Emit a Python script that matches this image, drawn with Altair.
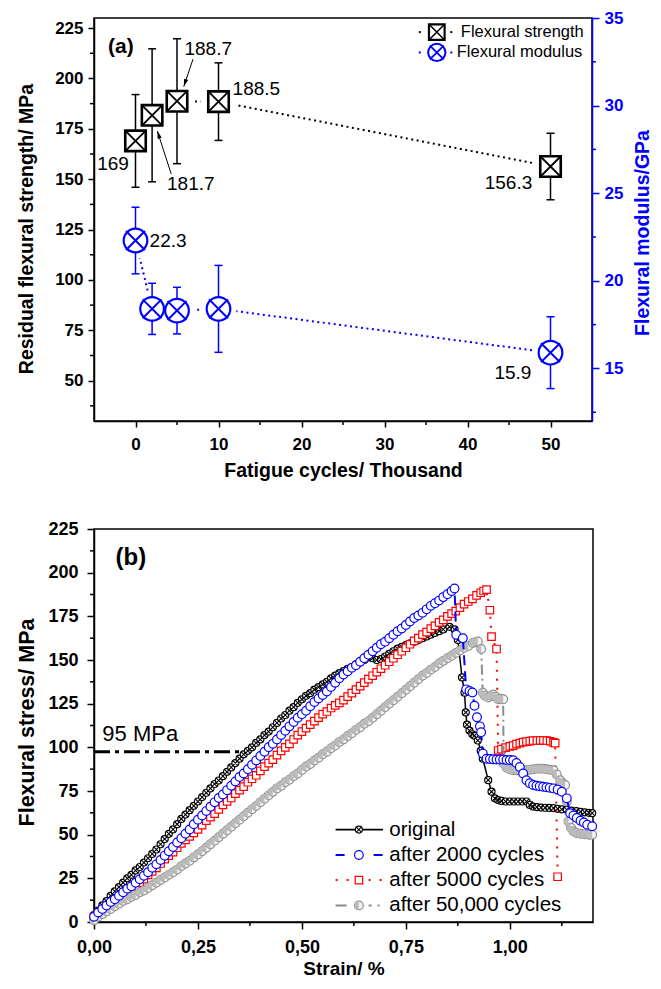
import altair as alt
import pandas as pd

FONT = "Liberation Sans"
BLUE = "#0000FF"
RED = "#FF0000"
GRAY = "#8C8C8C"

# ---------------- panel (a) data ----------------
cycles = [0, 2, 5, 10, 50]
strength = [169, 181.7, 188.7, 188.5, 156.3]
strength_err = [23, 33, 31, 19.25, 16.5]
modulus = [22.3, 18.4, 18.3, 18.4, 15.9]
modulus_err = [1.9, 1.46, 1.33, 2.48, 2.05]

strength_labels = ["169", "181.7", "188.7", "188.5", "156.3"]
strength_label_x = [-0.8, 3.8, 5.9, 11.7, 47.8]
strength_label_y = [157.5, 147.4, 214.8, 194.9, 148.0]
strength_label_align = ["right", "left", "left", "left", "right"]
modulus_labels = ["22.3", "15.9"]
modulus_label_x = [1.7, 47.7]
modulus_label_y = [22.25, 14.72]
modulus_label_align = ["left", "right"]

arrow_x = [4.3, 6.93]
arrow_y = [152.6, 209.6]
arrow_x2 = [2.63, 5.82]
arrow_y2 = [173.9, 196.0]
arrow_angle = [342, 198]

legend_a_labels = ["Flexural strength", "Flexural modulus"]
legend_a_y = [223.0, 212.9]

# ---------------- panel (b) data ----------------
strain_rise = [0.00, 0.01, 0.02, 0.03, 0.04, 0.05, 0.06, 0.07, 0.08, 0.09,
               0.10, 0.11, 0.12, 0.13, 0.14, 0.15, 0.16, 0.17, 0.18, 0.19,
               0.20, 0.21, 0.22, 0.23, 0.24, 0.25, 0.26, 0.27, 0.28, 0.29,
               0.30, 0.31, 0.32, 0.33, 0.34, 0.35, 0.36, 0.37, 0.38, 0.39,
               0.40, 0.41, 0.42, 0.43, 0.44, 0.45, 0.46, 0.47, 0.48, 0.49,
               0.50, 0.51, 0.52, 0.53, 0.54, 0.55, 0.56, 0.57, 0.58, 0.59,
               0.60, 0.61, 0.62, 0.63, 0.64, 0.65, 0.66, 0.67, 0.68, 0.69,
               0.70, 0.71, 0.72, 0.73, 0.74, 0.75, 0.76, 0.77, 0.78, 0.79,
               0.80, 0.81, 0.82, 0.83, 0.84]

black_rise = [4, 6.5, 9.5, 12, 15, 17.5, 20, 22.5, 25, 27,
              29.5, 31.5, 34, 36.5, 39, 41.5, 44.5, 47.5, 50.5, 53,
              56, 59, 61.5, 64, 66.5, 69, 71.5, 74, 76.5, 79,
              81, 83.5, 86, 88.5, 91, 93.5, 96, 98, 100, 102.5,
              104.5, 107, 109, 111.5, 114, 116.5, 118.5, 121, 123, 125.5,
              127.5, 129.5, 131, 133, 134.5, 136, 137.5, 139.5, 141, 142.5,
              143.6, 145, 146, 147.5, 148.5, 150, 151.5, 151, 150, 150.5,
              152, 153.5, 155, 156.5, 157.5, 158.5, 159.5, 160.5, 161.5, 162.5,
              163.5, 164.5, 165.5, 166.5, 167.5]
black_tail_strain = [0.855, 0.867, 0.875, 0.885, 0.891, 0.894, 0.897, 0.903, 0.91,
                     0.915, 0.923, 0.93, 0.935, 0.948, 0.956, 0.964, 0.972, 0.98,
                     0.99, 1.0, 1.01, 1.02, 1.03, 1.04, 1.048, 1.056, 1.065, 1.075,
                     1.085, 1.095, 1.105, 1.115, 1.125, 1.137, 1.148, 1.16, 1.17,
                     1.18, 1.19, 1.198]
black_tail_stress = [169, 167.5, 161.5, 140, 131.3, 120, 113, 109.6, 107.5, 106.7,
                     103.9, 98, 93.5, 81.2, 74.6, 70.8, 69.8, 69.3, 69, 69, 69, 69,
                     69, 69, 67, 66.1, 65.8, 65.5, 65.4, 65.3, 65.2, 64.8, 64.5,
                     64.2, 63.8, 63.5, 63.1, 62.8, 62.5, 62.3]

blue_rise = [3, 5.5, 7.5, 9.5, 11.5, 13, 15, 17, 19, 20.5,
             22.5, 24.5, 26.5, 28.5, 31, 33, 35.5, 38, 40.5, 43,
             45.5, 48, 50.5, 53, 56, 58.5, 61, 63.5, 66, 68.5,
             71, 73, 75.5, 78, 80.5, 83, 85, 87.5, 90, 92.5,
             95, 97.5, 100, 102, 104.5, 107, 109.5, 112, 114.5, 117,
             119, 121, 123.5, 126, 128, 130, 132, 134.5, 137, 139.5,
             141.7, 143.5, 145.5, 147, 149, 151, 153, 155, 157, 159,
             160.5, 162.5, 164.5, 166.5, 168, 170, 172, 174, 175.5, 177,
             179, 181, 182.5, 184, 186]
blue_tail_strain = [0.85, 0.86, 0.867, 0.871, 0.887, 0.895, 0.903, 0.91, 0.915,
                    0.921, 0.928, 0.931, 0.935, 0.944, 0.952, 0.96, 0.968, 0.976,
                    0.984, 0.992, 1.0, 1.008, 1.016, 1.024, 1.032, 1.04, 1.048,
                    1.056, 1.064, 1.072, 1.08, 1.088, 1.096, 1.105, 1.115, 1.125,
                    1.137, 1.145, 1.153, 1.161, 1.17, 1.178, 1.186, 1.198]
blue_tail_stress = [187.7, 189.5, 190.9, 164.4, 162.5, 133.2, 132.3, 131.4, 123.8,
                    117.2, 112, 108.7, 96.4, 93.5, 93.3, 93.2, 93, 93, 93, 92.8,
                    92.7, 92.6, 91, 88.8, 85, 81.2, 79.5, 78.4, 78, 77.7, 77.4,
                    77.1, 76.8, 76.5, 75.8, 74.6, 70.8, 62.3, 61, 59.5, 58, 57,
                    55.7, 54.8]

red_rise = [3, 5, 6.5, 8, 10, 12, 13.5, 15, 17, 19,
            20.5, 22.5, 24.5, 27, 29, 31, 33.5, 36, 38, 40,
            42.5, 45, 47, 49, 51, 53, 55.5, 58, 60, 62,
            64.5, 67, 69, 71, 73.5, 75.5, 77.5, 80, 82, 84,
            86.5, 89, 91, 93, 95.5, 98, 100, 102, 104.5, 107,
            109, 111, 113, 115, 117, 119, 120.5, 122.5, 124, 125.5,
            127, 129, 131, 133, 135, 137, 139, 141, 143, 145,
            147, 149, 151, 153, 155, 157, 159, 161, 162.5, 164.5,
            166, 168, 169.5, 171.5, 173]
red_tail_strain = [0.85, 0.86, 0.87, 0.88, 0.89, 0.90, 0.91, 0.92, 0.93, 0.937,
                   0.944, 0.952, 0.956, 0.968, 0.972, 0.98, 0.99, 1.0, 1.008,
                   1.016, 1.024, 1.032, 1.04, 1.048, 1.056, 1.065, 1.073, 1.081,
                   1.089, 1.097, 1.105, 1.109, 1.115]
red_tail_stress = [175, 176.5, 178, 180, 182, 183.5, 185, 187, 188.5, 189.5,
                   190.3, 178.5, 163.4, 156.3, 98.2, 99, 99.8, 100.5, 101,
                   101.8, 102.4, 103, 103.3, 103.6, 103.9, 103.9, 104, 104,
                   103.9, 103.5, 102.8, 102.4, 25.9]

gray_rise = [1, 3, 4.5, 6, 7.5, 9, 10.5, 12, 13, 14.5,
             15.5, 17, 18, 19.5, 21, 22.5, 24, 25.5, 27, 28.5,
             30, 32, 33.5, 35, 37, 38.7, 40.5, 42.5, 44.5, 46.5,
             48.5, 50.5, 52.5, 54.5, 56.5, 58.5, 60.5, 62.5, 64.5, 66.5,
             68.5, 70.5, 72.5, 74.5, 76.5, 78, 80, 81.5, 83.5, 85,
             87, 89, 90.5, 92.5, 94, 96, 97.5, 99.5, 101, 103,
             104.5, 106.5, 108, 110, 111.5, 113.5, 115, 117, 119, 121,
             123, 125, 127, 129, 131, 133, 135, 137, 139, 141,
             142.5, 144.5, 146, 148, 149.5]
gray_tail_strain = [0.85, 0.86, 0.87, 0.88, 0.89, 0.90, 0.911, 0.917, 0.923,
                    0.931, 0.935, 0.94, 0.948, 0.955, 0.96, 0.966, 0.972, 0.978,
                    0.984, 0.985, 0.992, 1.0, 1.008, 1.016, 1.024, 1.032, 1.04,
                    1.048, 1.056, 1.065, 1.073, 1.081, 1.089, 1.097, 1.105, 1.113,
                    1.121, 1.127, 1.133, 1.137, 1.141, 1.147, 1.153, 1.16, 1.17,
                    1.18, 1.19, 1.198]
gray_tail_stress = [151, 152.5, 154, 155.5, 157, 158, 159.7, 160.2, 160.6,
                    156.3, 131.3, 129.5, 128.5, 129.5, 130.3, 129, 127.5, 127.8,
                    127.5, 90.7, 88.5, 87.5, 86.9, 86.9, 86.9, 86.9, 86.9,
                    87.2, 87.5, 87.8, 87.8, 87.8, 87.5, 87.2, 86.9, 84.5,
                    81.2, 79.5, 78.4, 69, 57.6, 54, 52, 51, 50.5,
                    50.2, 50, 50]

legend_b_labels = ["original", "after 2000 cycles", "after 5000 cycles",
                   "after 50,000 cycles"]
legend_b_y = [52.9, 38.4, 24.0, 9.5]
legend_b_line_x = [0.581, 0.695]
legend_b_marker_x = 0.637
legend_b_text_x = 0.71

ref_line_x = [0.0]
ref_line_x2 = [0.363]
ref_line_y = [97.5]

# ---------------- sizes / shapes ----------------
WA, HA = 498, 403
WB, HB = 499, 393

XPATH = "M -1 -1 L 1 1 M -1 1 L 1 -1"
XPATH_SHORT = "M -0.8 -0.8 L 0.8 0.8 M -0.8 0.8 L 0.8 -0.8"
XPATH_IN = "M -0.7 -0.7 L 0.7 0.7 M -0.7 0.7 L 0.7 -0.7"
HLINE = "M -1 0 L 1 0"
HALF = ("M 0 -1 L -0.38 -0.92 L -0.71 -0.71 L -0.92 -0.38 L -1 0 L -0.92 0.38 "
        "L -0.71 0.71 L -0.38 0.92 L 0 1 Z")
ARROW = "M 0 0 L 0.45 1.6 L -0.45 1.6 Z"


def pt(**kw):
    kw.setdefault("opacity", 1)
    return kw


# ================= panel (a) =================
XA = alt.Scale(domain=[-5, 55], nice=False, zero=False)
YL = alt.Scale(domain=[30, 230], nice=False, zero=False)
YR = alt.Scale(domain=[12, 35], nice=False, zero=False)

ax_xa = alt.Axis(values=[0, 10, 20, 30, 40, 50], grid=False, tickSize=6, tickWidth=1.5,
                 domainWidth=1.5, domainColor="black", tickColor="black",
                 labelFont=FONT, labelFontSize=17, labelFontWeight="bold",
                 labelColor="black", labelPadding=9, labelFlush=False,
                 title="Fatigue cycles/ Thousand", titleFont=FONT, titleFontSize=19.5,
                 titleFontWeight="bold", titleColor="black", titlePadding=9)
ax_yl = alt.Axis(orient="left", values=[50, 75, 100, 125, 150, 175, 200, 225],
                 grid=False, tickSize=6, tickWidth=1.5, domainWidth=1.5,
                 domainColor="black", tickColor="black", labelFont=FONT,
                 labelFontSize=17, labelFontWeight="bold", labelColor="black",
                 labelPadding=5, labelFlush=False,
                 title="Residual flexural strength/ MPa", titleFont=FONT,
                 titleFontSize=19.5, titleFontWeight="bold", titleColor="black",
                 titleAngle=270, titleX=-68, titleY=210.5, titleAlign="center",
                 titleBaseline="middle")
ax_yr = alt.Axis(orient="right", values=[15, 20, 25, 30, 35], grid=False, tickSize=7,
                 tickWidth=1.5, domainWidth=1.5, domainColor=BLUE, tickColor=BLUE,
                 labelFont=FONT, labelFontSize=17, labelFontWeight="bold",
                 labelColor=BLUE, labelPadding=5, labelFlush=False,
                 title="Flexural modulus/GPa", titleFont=FONT, titleFontSize=19.5,
                 titleFontWeight="bold", titleColor=BLUE, titleAngle=270,
                 titleX=50, titleY=214.5, titleAlign="center", titleBaseline="middle")


def XAe(f):
    return alt.X(f"{f}:Q", scale=XA, axis=ax_xa)


def YLe(f):
    return alt.Y(f"{f}:Q", scale=YL, axis=ax_yl)


def YRe(f):
    return alt.Y(f"{f}:Q", scale=YR, axis=ax_yr)


df_s = pd.DataFrame({"x": cycles, "y": strength,
                     "lo": [v - e for v, e in zip(strength, strength_err)],
                     "hi": [v + e for v, e in zip(strength, strength_err)]})
df_m = pd.DataFrame({"x": cycles, "y": modulus,
                     "lo": [v - e for v, e in zip(modulus, modulus_err)],
                     "hi": [v + e for v, e in zip(modulus, modulus_err)]})

df_sl = pd.DataFrame({"label": strength_labels, "x": strength_label_x,
                      "y": strength_label_y, "align": strength_label_align})
df_ml = pd.DataFrame({"label": modulus_labels, "x": modulus_label_x,
                      "y": modulus_label_y, "align": modulus_label_align})
df_arrow = pd.DataFrame({"x": arrow_x, "y": arrow_y, "x2": arrow_x2, "y2": arrow_y2,
                         "ang": arrow_angle})


def texts(df, yenc, color="black", size=19, weight="normal"):
    out = []
    for al in ["left", "right"]:
        sub = df[df["align"] == al]
        if len(sub):
            out.append(alt.Chart(sub).mark_text(align=al, baseline="middle", font=FONT,
                                                fontSize=size, fontWeight=weight,
                                                color=color)
                       .encode(x=XAe("x"), y=yenc("y"), text="label:N"))
    return out


bs = alt.Chart(df_s).encode(x=XAe("x"), y=YLe("y"))
left_layers = [
    bs.mark_line(color="black", strokeDash=[2, 3.5], strokeWidth=2),
    bs.mark_point(**pt(shape="circle", filled=True, fill="white", size=1300, strokeWidth=0)),
    alt.Chart(df_s).mark_rule(color="black", strokeWidth=1.5).encode(
        x=XAe("x"), y=YLe("lo"), y2="hi:Q"),
    alt.Chart(df_s).mark_point(**pt(shape=HLINE, size=64, filled=False, color="black",
                                    strokeWidth=1.5)).encode(x=XAe("x"), y=YLe("lo")),
    alt.Chart(df_s).mark_point(**pt(shape=HLINE, size=64, filled=False, color="black",
                                    strokeWidth=1.5)).encode(x=XAe("x"), y=YLe("hi")),
    bs.mark_point(**pt(shape="square", size=420, filled=True, fill="white",
                       stroke="black", strokeWidth=2.6)),
    bs.mark_point(**pt(shape=XPATH, size=420, filled=False, color="black",
                       strokeWidth=1.8)),
]
left_layers += texts(df_sl, YLe)
left_layers += [
    alt.Chart(df_arrow).mark_rule(color="black", strokeWidth=1).encode(
        x=XAe("x"), y=YLe("y"), x2="x2:Q", y2="y2:Q"),
    alt.Chart(df_arrow).mark_point(**pt(shape=ARROW, size=90, filled=True,
                                        color="black", strokeWidth=0)).encode(
        x=XAe("x2"), y=YLe("y2"), angle=alt.Angle("ang:Q", scale=None)),
    alt.Chart(pd.DataFrame({"label": ["(a)"], "x": [-3.3], "y": [215.7]})).mark_text(
        align="left", baseline="middle", font=FONT, fontSize=21, fontWeight="bold",
        color="black").encode(x=XAe("x"), y=YLe("y"), text="label:N"),
]
# legend (a)
df_leg_a_sym = pd.DataFrame({"x": [36.3], "y": [legend_a_y[0]]})
df_leg_m_sym = pd.DataFrame({"x": [36.3], "y": [legend_a_y[1]]})
df_leg_a_dots = pd.DataFrame({"x": [34.25, 38.05], "y": [legend_a_y[0]] * 2})
df_leg_m_dots = pd.DataFrame({"x": [34.25, 38.05], "y": [legend_a_y[1]] * 2})
df_leg_a_txt = pd.DataFrame({"label": legend_a_labels, "x": [39.2, 38.7],
                             "y": legend_a_y})
left_layers += [
    alt.Chart(df_leg_a_dots).mark_point(**pt(shape="square", size=4, filled=True,
                                             color="black")).encode(x=XAe("x"), y=YLe("y")),
    alt.Chart(df_leg_m_dots).mark_point(**pt(shape="square", size=4, filled=True,
                                             color=BLUE)).encode(x=XAe("x"), y=YLe("y")),
    alt.Chart(df_leg_a_sym).mark_point(**pt(shape="square", size=245, filled=True,
                                            fill="white", stroke="black",
                                            strokeWidth=2.2)).encode(x=XAe("x"), y=YLe("y")),
    alt.Chart(df_leg_a_sym).mark_point(**pt(shape=XPATH, size=245, filled=False,
                                            color="black", strokeWidth=1.5)).encode(
        x=XAe("x"), y=YLe("y")),
    alt.Chart(df_leg_m_sym).mark_point(**pt(shape="circle", size=300, filled=True,
                                            fill="white", stroke=BLUE,
                                            strokeWidth=2)).encode(x=XAe("x"), y=YLe("y")),
    alt.Chart(df_leg_m_sym).mark_point(**pt(shape=XPATH_SHORT, size=300, filled=False,
                                            color=BLUE, strokeWidth=1.8)).encode(
        x=XAe("x"), y=YLe("y")),
    alt.Chart(df_leg_a_txt).mark_text(align="left", baseline="middle", font=FONT,
                                      fontSize=16.5, color="black").encode(
        x=XAe("x"), y=YLe("y"), text="label:N"),
]
# minor ticks (a)
left_layers += [
    alt.Chart(pd.DataFrame({"v": [5, 15, 25, 35, 45]})).mark_rule(
        color="black", strokeWidth=1.5).encode(x=XAe("v"), y=alt.value(HA),
                                               y2=alt.value(HA + 4)),
    alt.Chart(pd.DataFrame({"v": [37.5, 62.5, 87.5, 112.5, 137.5, 162.5, 187.5, 212.5]}))
    .mark_rule(color="black", strokeWidth=1.5).encode(y=YLe("v"), x=alt.value(0),
                                                       x2=alt.value(-4)),
]

bm = alt.Chart(df_m).encode(x=XAe("x"), y=YRe("y"))
right_layers = [
    bm.mark_line(color=BLUE, strokeDash=[2, 3.5], strokeWidth=2),
    bm.mark_point(**pt(shape="circle", filled=True, fill="white", size=1300, strokeWidth=0)),
    alt.Chart(df_m).mark_rule(color=BLUE, strokeWidth=1.5).encode(
        x=XAe("x"), y=YRe("lo"), y2="hi:Q"),
    alt.Chart(df_m).mark_point(**pt(shape=HLINE, size=64, filled=False, color=BLUE,
                                    strokeWidth=1.5)).encode(x=XAe("x"), y=YRe("lo")),
    alt.Chart(df_m).mark_point(**pt(shape=HLINE, size=64, filled=False, color=BLUE,
                                    strokeWidth=1.5)).encode(x=XAe("x"), y=YRe("hi")),
    bm.mark_point(**pt(shape="circle", size=560, filled=True, fill="white",
                       stroke=BLUE, strokeWidth=2.2)),
    bm.mark_point(**pt(shape=XPATH_SHORT, size=560, filled=False, color=BLUE,
                       strokeWidth=2)),
]
right_layers += texts(df_ml, YRe)
right_layers += [
    alt.Chart(pd.DataFrame({"v": [12.5, 17.5, 22.5, 27.5, 32.5]})).mark_rule(
        color=BLUE, strokeWidth=1.5).encode(y=YRe("v"), x=alt.value(WA),
                                             x2=alt.value(WA + 4)),
]

chart_a = alt.layer(alt.layer(*left_layers), alt.layer(*right_layers)).resolve_scale(
    y="independent").properties(width=WA, height=HA)

# ================= panel (b) =================
XB = alt.Scale(domain=[0, 1.2], nice=False, zero=False)
YB = alt.Scale(domain=[0, 225], nice=False, zero=False)
ax_xb = alt.Axis(values=[0, 0.25, 0.5, 0.75, 1.0],
                 labelExpr="replace(format(datum.value, '.2f'), '.', ',')",
                 grid=False, tickSize=7, tickWidth=1.5, domainWidth=1.5,
                 domainColor="black", tickColor="black", labelFont=FONT,
                 labelFontSize=18, labelFontWeight="bold", labelColor="black",
                 labelPadding=9, labelFlush=False, title="Strain/ %", titleFont=FONT,
                 titleFontSize=19, titleFontWeight="bold", titleColor="black",
                 titlePadding=3)
ax_yb = alt.Axis(values=[0, 25, 50, 75, 100, 125, 150, 175, 200, 225], grid=False,
                 tickSize=7, tickWidth=1.5, domainWidth=1.5, domainColor="black",
                 tickColor="black", labelFont=FONT, labelFontSize=18,
                 labelFontWeight="bold", labelColor="black", labelPadding=9,
                 labelFlush=False, title="Flexural stress/ MPa", titleFont=FONT,
                 titleFontSize=21.5, titleFontWeight="bold", titleColor="black",
                 titleAngle=270, titleX=-66.6, titleY=193, titleAlign="center",
                 titleBaseline="middle")


def XBe(f):
    return alt.X(f"{f}:Q", scale=XB, axis=ax_xb)


def YBe(f):
    return alt.Y(f"{f}:Q", scale=YB, axis=ax_yb)


black_markers = [pt(shape="circle", size=49, filled=True, fill="white", stroke="black",
                    strokeWidth=1.2),
                 pt(shape=XPATH_IN, size=49, filled=False, color="black",
                    strokeWidth=1.1)]
blue_markers = [pt(shape="circle", size=76, filled=True, fill="white", stroke=BLUE,
                   strokeWidth=1.2)]
red_markers = [pt(shape="square", size=56, filled=True, fill="white", stroke=RED,
                  strokeWidth=1.2)]
gray_markers = [pt(shape="circle", size=76, filled=True, fill="#f4f4f4", stroke=GRAY,
                   strokeWidth=1.2),
                pt(shape=HALF, size=76, filled=True, fill="#bcbcbc", strokeWidth=0)]

series_specs = [
    ("black", strain_rise + black_tail_strain, black_rise + black_tail_stress,
     "black", None, 1.5, None, black_markers),
    ("red", strain_rise + red_tail_strain, red_rise + red_tail_stress,
     RED, [2, 7], 2, [2, 9], red_markers),
    ("gray", strain_rise + gray_tail_strain, gray_rise + gray_tail_stress,
     GRAY, [10, 4, 2, 4], 2, [11, 22, 3, 6, 2, 10], gray_markers),
    ("blue", strain_rise + blue_tail_strain, blue_rise + blue_tail_stress,
     BLUE, [10, 6], 2, [9, 29], blue_markers),
]
leg_row = {"black": 0, "blue": 1, "red": 2, "gray": 3}

b_layers = [
    alt.Chart(pd.DataFrame({"x": ref_line_x, "x2": ref_line_x2, "y": ref_line_y}))
    .mark_rule(color="black", strokeWidth=3, strokeDash=[16, 5, 4, 5])
    .encode(x=XBe("x"), x2="x2:Q", y=YBe("y")),
    alt.Chart(pd.DataFrame({"label": ["95 MPa"], "x": [0.02], "y": [107.7]}))
    .mark_text(align="left", baseline="middle", font=FONT, fontSize=22, color="black")
    .encode(x=XBe("x"), y=YBe("y"), text="label:N"),
    alt.Chart(pd.DataFrame({"label": ["(b)"], "x": [0.052], "y": [208.6]}))
    .mark_text(align="left", baseline="middle", font=FONT, fontSize=24,
               fontWeight="bold", color="black")
    .encode(x=XBe("x"), y=YBe("y"), text="label:N"),
]

for name, xs, ys, color, dash, width, leg_dash, markers in series_specs:
    df = pd.DataFrame({"x": xs, "y": ys})
    base = alt.Chart(df).encode(x=XBe("x"), y=YBe("y"))
    line_kw = dict(color=color, strokeWidth=width)
    if dash is not None:
        line_kw["strokeDash"] = dash
    b_layers.append(base.mark_line(**line_kw))
    for m in markers:
        b_layers.append(base.mark_point(**m))
    ly = legend_b_y[leg_row[name]]
    dfl = pd.DataFrame({"x": legend_b_line_x, "y": [ly, ly]})
    leg_kw = dict(color=color, strokeWidth=width if name != "black" else 1.8)
    if leg_dash is not None:
        leg_kw["strokeDash"] = leg_dash
    b_layers.append(alt.Chart(dfl).mark_line(**leg_kw).encode(x=XBe("x"), y=YBe("y")))
    dfm = pd.DataFrame({"x": [legend_b_marker_x], "y": [ly]})
    for m in markers:
        b_layers.append(alt.Chart(dfm).mark_point(**m).encode(x=XBe("x"), y=YBe("y")))

b_layers.append(
    alt.Chart(pd.DataFrame({"label": legend_b_labels, "x": [legend_b_text_x] * 4,
                            "y": legend_b_y}))
    .mark_text(align="left", baseline="middle", font=FONT, fontSize=20.5, color="black")
    .encode(x=XBe("x"), y=YBe("y"), text="label:N"))
b_layers += [
    alt.Chart(pd.DataFrame({"v": [0.125, 0.375, 0.625, 0.875, 1.125]})).mark_rule(
        color="black", strokeWidth=1.5).encode(x=XBe("v"), y=alt.value(HB),
                                               y2=alt.value(HB + 4)),
    alt.Chart(pd.DataFrame({"v": [12.5, 37.5, 62.5, 87.5, 112.5, 137.5, 162.5,
                                  187.5, 212.5]}))
    .mark_rule(color="black", strokeWidth=1.5).encode(y=YBe("v"), x=alt.value(0),
                                                       x2=alt.value(-4)),
]

chart_b = alt.layer(*b_layers).properties(width=WB, height=HB)

chart = (alt.vconcat(chart_a, chart_b, spacing=38)
         .properties(padding={"left": 7, "top": 0, "right": 0, "bottom": 0},
                     background="white")
         .configure_view(stroke="black", strokeWidth=1.5))

chart.save("out.html", embed_options={"renderer": "svg", "actions": False})
